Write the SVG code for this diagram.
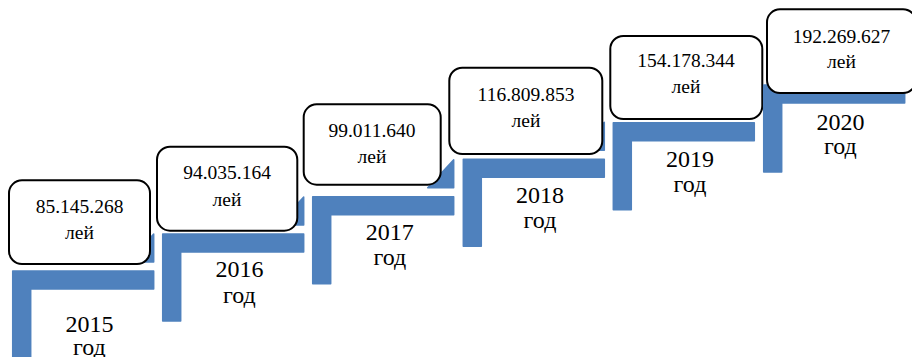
<svg xmlns="http://www.w3.org/2000/svg" xmlns:xlink="http://www.w3.org/1999/xlink" width="912" height="357" viewBox="0 0 912 357">
  <style>
    .step { fill: #4F81BD; stroke: #4F81BD; stroke-width: 1.5; stroke-linejoin: round; }
    .box { fill: #FFFFFF; stroke: #000000; stroke-width: 2; }
    .val { font-size: 19.5px; fill: #000000; text-anchor: middle; }
    .yr { font-size: 24px; fill: #000000; text-anchor: middle; }
  </style>
  <defs>
    <path id="L" d="M0,0 H141 V18 H18 V87 H0 Z"/>
    <path id="T" d="M141,-37 V-9 H115 Z"/>
  </defs>
  <rect width="912" height="357" fill="#FFFFFF"/>

  <g font-family="'Liberation Serif', 'DejaVu Serif', serif">
  <g id="step-2015">
    <use xlink:href="#L" class="step" transform="translate(12.7,271)"/>
    <use xlink:href="#T" class="step" transform="translate(12.7,271)"/>
    <rect class="box" x="9" y="180.3" width="141" height="83.7" rx="13" ry="13"/>
    <text class="val" x="79.5" y="213">85.145.268</text>
    <text class="val" x="79.5" y="239">лей</text>
    <text class="yr" x="89.4" y="331.5">2015</text>
    <text class="yr" x="89.4" y="355">год</text>
  </g>

  <g id="step-2016">
    <use xlink:href="#L" class="step" transform="translate(162.7,234)"/>
    <use xlink:href="#T" class="step" transform="translate(162.7,234)"/>
    <rect class="box" x="157" y="146.7" width="140.3" height="84" rx="13" ry="13"/>
    <text class="val" x="227" y="179.3">94.035.164</text>
    <text class="val" x="227" y="206">лей</text>
    <text class="yr" x="239.4" y="277.3">2016</text>
    <text class="yr" x="239.4" y="302.7">год</text>
  </g>

  <g id="step-2017">
    <use xlink:href="#L" class="step" transform="translate(312.7,196.7)"/>
    <use xlink:href="#T" class="step" transform="translate(312.7,196.7)"/>
    <rect class="box" x="303.7" y="104.3" width="137" height="80.4" rx="13" ry="13"/>
    <text class="val" x="372" y="136.7">99.011.640</text>
    <text class="val" x="372" y="162.7">лей</text>
    <text class="yr" x="389.8" y="240">2017</text>
    <text class="yr" x="389.8" y="265">год</text>
  </g>

  <g id="step-2018">
    <use xlink:href="#L" class="step" transform="translate(463.3,159.3)"/>
    <use xlink:href="#T" class="step" transform="translate(463.3,159.3)"/>
    <rect class="box" x="449.3" y="67.7" width="153" height="86.3" rx="13" ry="13"/>
    <text class="val" x="526" y="101">116.809.853</text>
    <text class="val" x="526" y="126.7">лей</text>
    <text class="yr" x="540" y="202.7">2018</text>
    <text class="yr" x="540" y="227.7">год</text>
  </g>

  <g id="step-2019">
    <use xlink:href="#L" class="step" transform="translate(613.3,122.7)"/>
    <use xlink:href="#T" class="step" transform="translate(613.3,122.7)"/>
    <rect class="box" x="610.3" y="36" width="152" height="83" rx="13" ry="13"/>
    <text class="val" x="686" y="66.7">154.178.344</text>
    <text class="val" x="686" y="93.3">лей</text>
    <text class="yr" x="690" y="166.7">2019</text>
    <text class="yr" x="690" y="191.7">год</text>
  </g>

  <g id="step-2020">
    <use xlink:href="#L" class="step" transform="translate(763.7,85)"/>
    <use xlink:href="#T" class="step" transform="translate(763.7,85)"/>
    <rect class="box" x="767" y="9.3" width="149" height="83.7" rx="13" ry="13"/>
    <text class="val" x="841.5" y="43.3">192.269.627</text>
    <text class="val" x="841.5" y="68.3">лей</text>
    <text class="yr" x="840.4" y="130">2020</text>
    <text class="yr" x="840.4" y="154">год</text>
  </g>
  </g>

  <g id="connectors"/>
</svg>
